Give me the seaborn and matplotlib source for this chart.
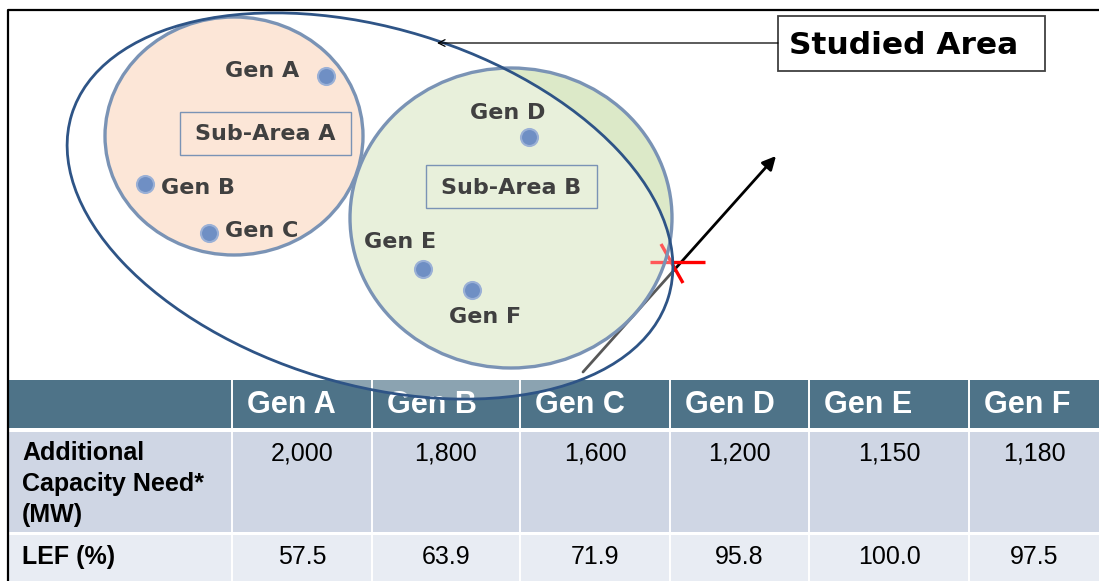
import matplotlib
matplotlib.use("Agg")
import matplotlib.pyplot as plt
import seaborn as sns
import pandas as pd
from matplotlib.patches import Ellipse, Rectangle

sns.set_theme(style="white")

# data
gens = ["Gen A", "Gen B", "Gen C", "Gen D", "Gen E", "Gen F"]
sub_area = ["A", "A", "A", "B", "B", "B"]
capacity_mw = [2000, 1800, 1600, 1200, 1150, 1180]
lef_pct = [57.5, 63.9, 71.9, 95.8, 100.0, 97.5]
row_labels = ["Additional\nCapacity Need*\n(MW)", "LEF (%)"]

# layout (pixel coordinates of the drawing)
gen_x = [326, 145, 209, 529, 423, 472]
gen_y = [76, 184, 233, 137, 269, 290]
label_x = [262, 198, 262, 508, 400, 485]
label_y = [71, 188, 231, 113, 242, 317]
col_edges = [8, 232, 372, 520, 670, 809, 969, 1099]

fig = plt.figure(figsize=(10.99, 5.81), dpi=100)
ax = fig.add_axes([0, 0, 1, 1])

dark = "#404040"
edge_blue = "#7A93B5"
diag_font = "DejaVu Sans"
tab_font = "Liberation Sans"

# ---- table ----
hdr_top, hdr_bot = 380, 428
r1_top, r1_bot = 432, 532
r2_top, r2_bot = 535, 581
ax.add_patch(Rectangle((col_edges[0], hdr_top), col_edges[-1] - col_edges[0], hdr_bot - hdr_top,
                       fc="#4E7388", ec="none", zorder=1))
ax.add_patch(Rectangle((col_edges[0], r1_top), col_edges[-1] - col_edges[0], r1_bot - r1_top,
                       fc="#CFD6E4", ec="none", zorder=1))
ax.add_patch(Rectangle((col_edges[0], r2_top), col_edges[-1] - col_edges[0], r2_bot - r2_top,
                       fc="#E8ECF3", ec="none", zorder=1))
for xe in col_edges[1:-1]:
    ax.plot([xe, xe], [hdr_top, 581], color="white", lw=1.4, zorder=1.5)

ax.text(22, 484, row_labels[0], ha="left", va="center", fontsize=18,
        fontweight="bold", family=tab_font, color="black", linespacing=1.36, zorder=2)
ax.text(22, 557, row_labels[1], ha="left", va="center", fontsize=18,
        fontweight="bold", family=tab_font, color="black", zorder=2)
for i, g in enumerate(gens):
    left, right = col_edges[i + 1], col_edges[i + 2]
    mid = (left + right) / 2
    ax.text(left + 15, 405, g, ha="left", va="center", fontsize=22, fontweight="bold",
            family=tab_font, color="white", zorder=2)
    ax.text(mid, 453, f"{capacity_mw[i]:,}", ha="center", va="center", fontsize=18,
            family=tab_font, color="black", zorder=2)
    ax.text(mid, 557, f"{lef_pct[i]:.1f}", ha="center", va="center", fontsize=18,
            family=tab_font, color="black", zorder=2)

# ---- sub-areas ----
circ_a = Ellipse((234, 136), 258, 238, fc="#FBDAC2", ec="none", zorder=2)
circ_b = Ellipse((511, 218), 322, 300, fc="#DCE9C8", ec="none", zorder=2)
ax.add_patch(circ_a)
ax.add_patch(circ_b)

# outward arrow and red cross
ax.annotate("", xy=(776, 156), xytext=(583, 372),
            arrowprops=dict(arrowstyle="-|>", color="black", lw=2.0, mutation_scale=20,
                            shrinkA=0, shrinkB=0), zorder=3)
ax.plot([650, 705], [262, 262], color="#FF0000", lw=2.4, zorder=3, solid_capstyle="butt")
ax.plot([661, 683], [244, 283], color="#FF0000", lw=2.4, zorder=3, solid_capstyle="butt")

# studied area: translucent white ellipse over everything beneath
studied = dict(xy=(370, 206), width=624, height=356, angle=17)
ax.add_patch(Ellipse(**studied, fc="white", alpha=0.35, ec="none", zorder=4))

ax.add_patch(Ellipse((234, 136), 258, 238, fc="none", ec=edge_blue, lw=2.4, zorder=5))
ax.add_patch(Ellipse((511, 218), 322, 300, fc="none", ec=edge_blue, lw=2.4, zorder=5))
ax.add_patch(Ellipse(**studied, fc="none", ec="#2E5486", lw=2.0, zorder=6))

# sub-area boxes
for (x0, y0, x1, y1), name in [((180, 112, 351, 155), "Sub-Area A"),
                                ((426, 165, 597, 208), "Sub-Area B")]:
    ax.add_patch(Rectangle((x0, y0), x1 - x0, y1 - y0, fc="none", ec=edge_blue, lw=1.0, zorder=7))
    ax.text((x0 + x1) / 2, (y0 + y1) / 2 + 1, name, ha="center", va="center", fontsize=16,
            fontweight="bold", family=diag_font, color=dark, zorder=7)

# generators
gen_df = pd.DataFrame({"x": gen_x, "y": gen_y, "gen": gens, "area": sub_area})
sns.scatterplot(data=gen_df, x="x", y="y", ax=ax, s=150, color="#6F8FC4",
                edgecolor="#9AB0D6", linewidth=1.5, zorder=8, legend=False)
for g, lx, ly in zip(gens, label_x, label_y):
    ax.text(lx, ly, g, ha="center", va="center", fontsize=16, fontweight="bold",
            family=diag_font, color=dark, zorder=8)

# "Studied Area" callout
ax.add_patch(Rectangle((778, 16), 267, 55, fc="white", ec="#404040", lw=1.3, zorder=8))
ax.text(904, 45, "Studied Area", ha="center", va="center", fontsize=22.5, fontweight="bold",
        family=diag_font, color="black", zorder=9)
ax.annotate("", xy=(437, 43), xytext=(778, 43),
            arrowprops=dict(arrowstyle="->", color="black", lw=0.9, mutation_scale=12,
                            shrinkA=0, shrinkB=0), zorder=8)

# frame
ax.plot([8, 8, 1099], [581, 10, 10], color="black", lw=1.6, zorder=10)

ax.set_xlim(0, 1099)
ax.set_ylim(581, 0)
ax.set_xlabel("")
ax.set_ylabel("")
ax.axis("off")

fig.savefig("out.png", dpi=100, facecolor="white")
